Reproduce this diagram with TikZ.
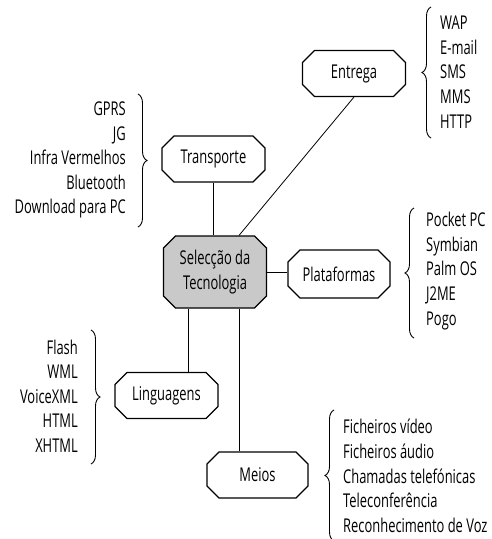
\documentclass[tikz,border=0pt]{standalone}
\usepackage{fontspec}
\setmainfont[FakeStretch=0.68]{Open Sans}
\usetikzlibrary{shapes.misc,decorations.pathreplacing}

\tikzset{
  topic/.style={chamfered rectangle, chamfered rectangle xsep=6pt, chamfered rectangle ysep=6pt,
    draw=black, line width=1.1pt, fill=white, minimum width=103pt, minimum height=46pt,
    inner sep=0pt, font=\fontsize{19}{25}\selectfont, align=center},
  hub/.style={topic, fill=gray!42, minimum height=72pt},
  link/.style={draw=black, line width=0.8pt},
  listtext/.style={inner sep=0pt, font=\fontsize{19}{24.6}\selectfont},
  grouping/.style={draw=black, line width=0.9pt, decorate, decoration={brace, amplitude=9pt}}
}

\begin{document}
\begin{tikzpicture}[x=1pt, y=-1pt]
\useasboundingbox (0,0) rectangle (491,539);

% central topic and the five branches
\node[hub]   (sel)   at (215,272)   {Selecção da\\Tecnologia};
\node[topic] (ent)   at (354,73.5)  {Entrega};
\node[topic] (trans) at (213.5,159) {Transporte};
\node[topic, minimum width=102pt, minimum height=48pt] (plat) at (339,274) {Plataformas};
\node[topic] (ling)  at (166.5,395.5) {Linguagens};
\node[topic, minimum width=101pt] (meios) at (257.5,475) {Meios};

% connectors
\draw[link] (trans.south) -- (trans.south |- sel.north);
\draw[link] (ent.south) -- ([xshift=24pt]sel.north);
\draw[link] (sel.east) -- (sel.east -| plat.west);
\draw[link] ([xshift=22pt]ling.north) -- ([xshift=22pt]ling.north |- sel.south);
\draw[link] ([xshift=24pt]sel.south) -- ([xshift=24pt]sel.south |- meios.north);

% option lists
\node[listtext, anchor=west, align=left] (entl) at (440,72) {WAP\\E-mail\\SMS\\MMS\\HTTP};
\node[listtext, anchor=east, align=right] (transl) at (126,160) {GPRS\\JG\\Infra Vermelhos\\Bluetooth\\Download para PC};
\node[listtext, anchor=west, align=left] (platl) at (426,271) {Pocket PC\\Symbian\\Palm OS\\J2ME\\Pogo};
\node[listtext, anchor=east, align=right] (lingl) at (78,396) {Flash\\WML\\VoiceXML\\HTML\\XHTML};
\node[listtext, anchor=west, align=left] (meiosl) at (343,476) {Ficheiros vídeo\\Ficheiros áudio\\Chamadas telefónicas\\Teleconferência\\Reconhecimento de Voz};

% braces
\coordinate (entb1) at (431,138);  \coordinate (entb2) at (431,7);
\coordinate (transb1) at (138,94); \coordinate (transb2) at (138,227);
\coordinate (platb1) at (414,338); \coordinate (platb2) at (414,208);
\coordinate (lingb1) at (91,330);  \coordinate (lingb2) at (91,464);
\coordinate (meiosb1) at (334,541); \coordinate (meiosb2) at (334,410);
\draw[grouping] (entb1) -- (entb2);
\draw[grouping] (transb1) -- (transb2);
\draw[grouping] (platb1) -- (platb2);
\draw[grouping] (lingb1) -- (lingb2);
\draw[grouping] (meiosb1) -- (meiosb2);
\end{tikzpicture}
\end{document}
